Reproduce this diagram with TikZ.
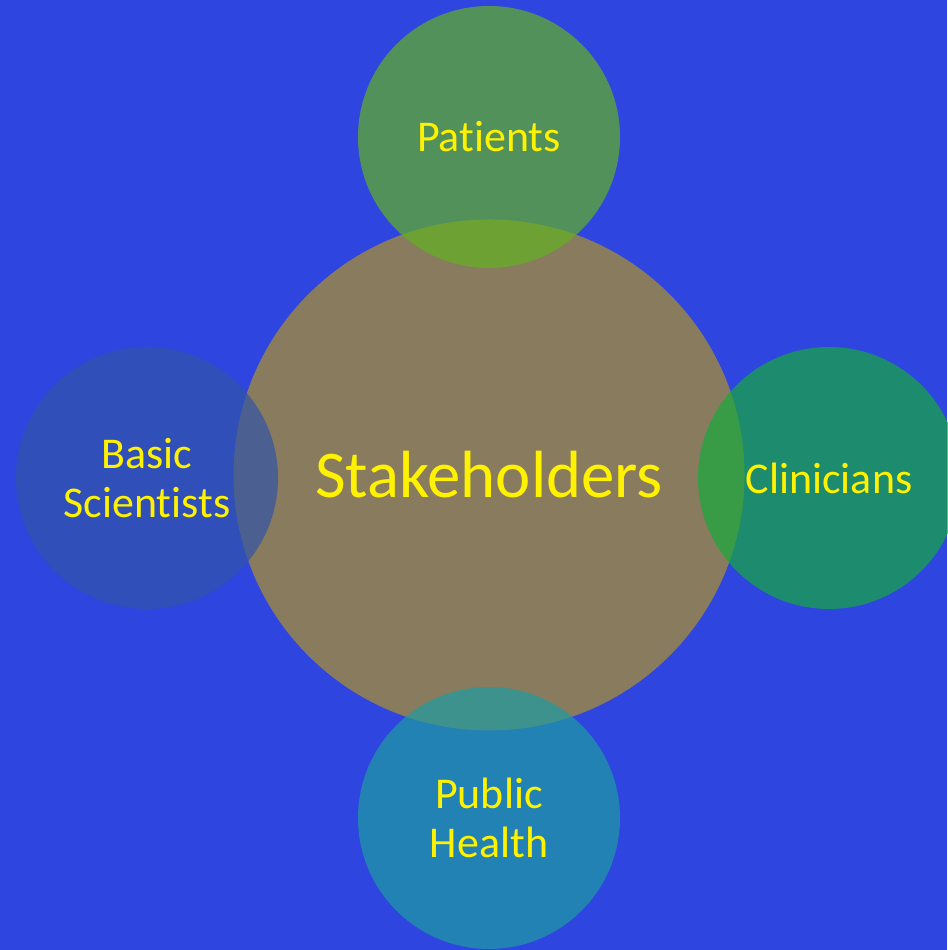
\documentclass[tikz,border=0pt]{standalone}
\usepackage{fontspec}
\setmainfont{Carlito}[Ligatures={NoCommon,NoContextual}]
\definecolor{bgblue}{RGB}{46,69,224}
\definecolor{stakebrown}{RGB}{177,146,40}
\definecolor{patgreen}{RGB}{99,178,35}
\definecolor{sciblue}{RGB}{49,84,168}
\definecolor{clingreen}{RGB}{23,170,61}
\definecolor{healthblue}{RGB}{30,156,161}

\begin{document}
\begin{tikzpicture}
        \tikzstyle{every node}=[font=\fontsize{25}{28}\selectfont, text=yellow, align=center]
        \tikzstyle{bubble}=[circle, inner sep=0pt, minimum size=5.24cm, fill opacity=0.7, text opacity=1]
        \useasboundingbox (0,0) rectangle (18.94,19);
        \fill[bgblue] (0,0) rectangle (18.94,19);

        % centre first, the others lie over it
        \node[bubble, minimum size=10.22cm, fill=stakebrown, font=\fontsize{38}{41}\selectfont] (stake) at (9.78,9.5) {Stakeholders};

        \node[bubble, fill=patgreen] (patients) at (9.78,16.26) {Patients};
        \node[bubble, fill=sciblue] (scientists) at (2.94,9.44) {Basic\\Scientists};
        \node[bubble, fill=clingreen] (clinicians) at (16.58,9.44) {Clinicians};
        \node[bubble, fill=healthblue] (health) at (9.78,2.64) {Public\\Health};
\end{tikzpicture}
\end{document}
